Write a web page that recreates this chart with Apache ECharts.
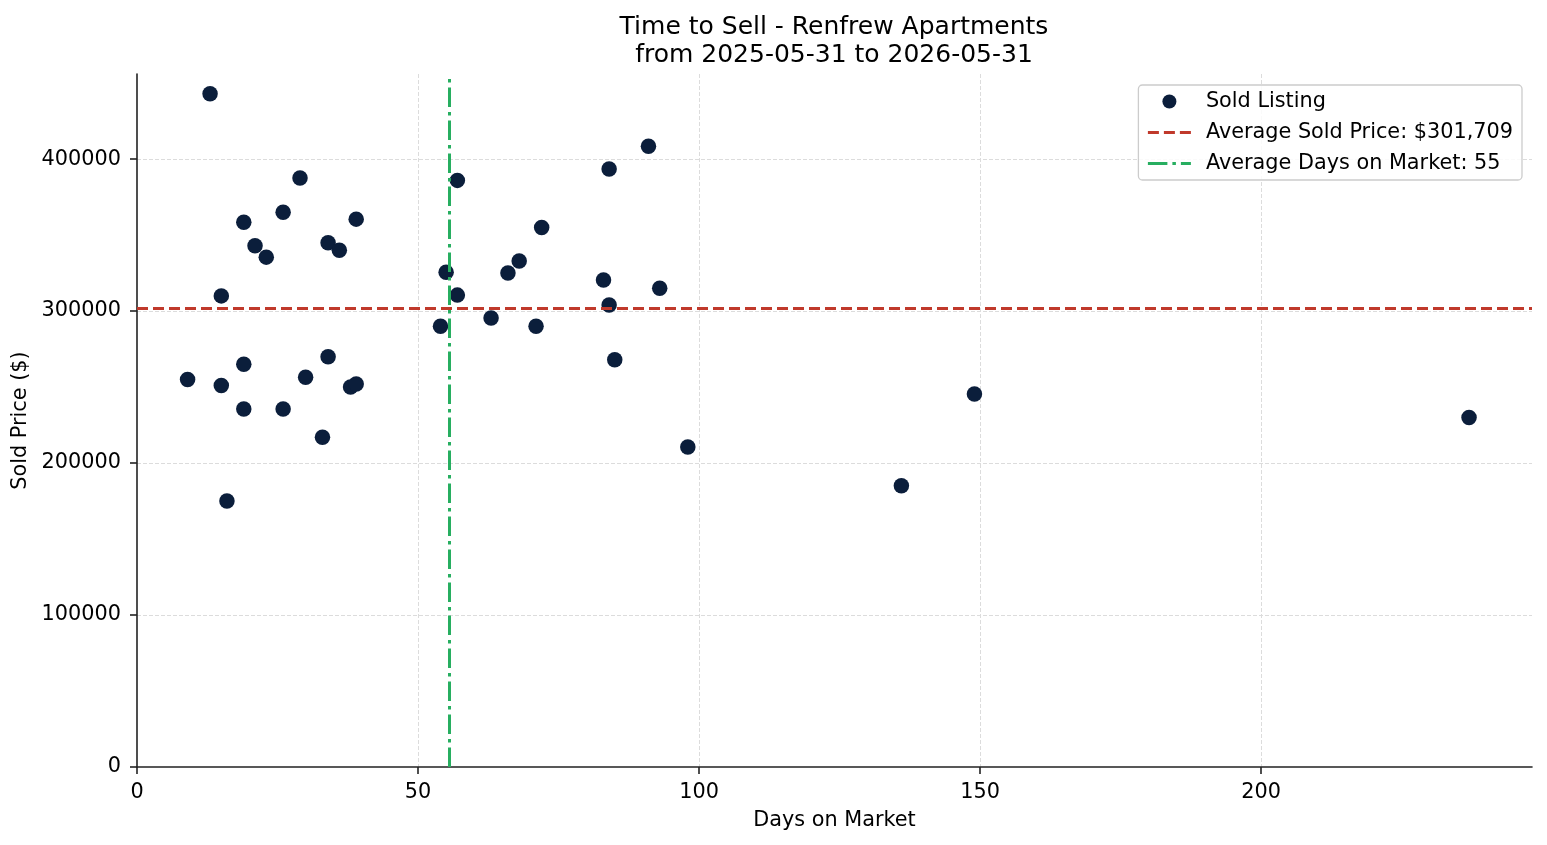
<!DOCTYPE html>
<html>
<head>
<meta charset="utf-8">
<title>Time to Sell - Renfrew Apartments</title>
<script src="https://cdn.jsdelivr.net/npm/echarts@6/dist/echarts.min.js"></script>
<style>
  html, body { margin: 0; padding: 0; background: #fff; }
  #chart { width: 1547px; height: 845px; }
</style>
</head>
<body>
<div id="chart"></div>
<script>
// sold listings
const daysOnMarket = [
  9, 13, 15, 15, 16, 19, 19, 19, 21, 23,
  26, 26, 29, 30, 33, 34, 34, 36, 38, 39,
  39, 54, 55, 57, 57, 63, 66, 68, 71, 72,
  83, 84, 84, 85, 91, 93, 98, 136, 149, 237
]
const soldPrices = [
  255000, 443000, 310000, 251000, 175000, 358500, 265000, 235500, 343000, 335500,
  365000, 235500, 387500, 256500, 217000, 345000, 270000, 340000, 250000, 360500,
  252000, 290000, 325500, 386000, 310500, 295500, 325000, 333000, 290000, 355000,
  320500, 393500, 304000, 268000, 408500, 315000, 210500, 185000, 245500, 230000
]

const AVG_PRICE = 301709
const AVG_DAYS = 55.6
const X_MAX = 248.2
const Y_MAX = 456000

const FONT = 'DejaVu Sans'
const TEXT = '#000'
const AXIS = '#222'
const GRID = '#dcdcdc'
const RED = '#c0392b'
const GREEN = '#27ae60'

const chart = echarts.init(document.getElementById('chart'))

const axisCommon = {
  type: 'value',
  min: 0,
  nameLocation: 'middle',
  nameTextStyle: { fontFamily: FONT, fontSize: 20.8, color: TEXT },
  axisLine: { show: true, onZero: false, lineStyle: { color: AXIS, width: 1.6 } },
  axisTick: { show: true, length: 7, lineStyle: { color: AXIS, width: 1.6 } },
  axisLabel: { fontFamily: FONT, fontSize: 20.8, color: TEXT, showMaxLabel: false },
  splitLine: { show: true, showMinLine: false, showMaxLine: false, lineStyle: { color: GRID, width: 1, type: [4, 2] } }
}

chart.setOption({
  backgroundColor: '#fff',
  animation: false,
  title: {
    text: 'Time to Sell - Renfrew Apartments\nfrom 2025-05-31 to 2026-05-31',
    left: 829,
    top: 8,
    textAlign: 'center',
    textStyle: { fontFamily: FONT, fontSize: 25, fontWeight: 'normal', color: TEXT, lineHeight: 28 }
  },
  grid: { left: 137, right: 15, top: 74, bottom: 78, containLabel: false, outerBoundsMode: 'none' },
  legend: {
    orient: 'vertical',
    right: 25,
    top: 85,
    padding: [6, 9, 6, 8],
    itemGap: 10,
    itemWidth: 43,
    itemHeight: 14,
    backgroundColor: 'rgba(255,255,255,0.85)',
    borderColor: '#cccccc',
    borderWidth: 1.3,
    borderRadius: 4,
    textStyle: { fontFamily: FONT, fontSize: 20.8, color: TEXT, lineHeight: 20, padding: [0, 0, 0, 10] },
    data: [
      { name: 'Sold Listing', icon: 'circle' },
      { name: 'Average Sold Price: $301,709', itemStyle: { opacity: 0 }, lineStyle: { color: RED, width: 3, type: [11, 5] } },
      { name: 'Average Days on Market: 55', itemStyle: { opacity: 0 }, lineStyle: { color: GREEN, width: 3, type: [19.5, 5, 3.5, 5] } }
    ]
  },
  xAxis: Object.assign({}, axisCommon, {
    max: X_MAX,
    interval: 50,
    name: 'Days on Market',
    nameGap: 43,
    axisLabel: Object.assign({}, axisCommon.axisLabel, { margin: 15 })
  }),
  yAxis: Object.assign({}, axisCommon, {
    max: Y_MAX,
    interval: 100000,
    name: 'Sold Price ($)',
    nameGap: 101,
    axisLabel: Object.assign({}, axisCommon.axisLabel, { margin: 16, formatter: v => String(v) })
  }),
  series: [
    {
      name: 'Sold Listing',
      type: 'scatter',
      symbolSize: 15.5,
      itemStyle: { color: '#0b1e3b', opacity: 1 },
      data: daysOnMarket.map((d, i) => [d, soldPrices[i]]),
      z: 2
    },
    {
      name: 'Average Sold Price: $301,709',
      type: 'line',
      symbol: 'none',
      silent: true,
      color: RED,
      lineStyle: { color: RED, width: 3, type: [11, 5] },
      data: [[0, AVG_PRICE], [X_MAX, AVG_PRICE]],
      z: 3
    },
    {
      name: 'Average Days on Market: 55',
      type: 'line',
      symbol: 'none',
      silent: true,
      color: GREEN,
      lineStyle: { color: GREEN, width: 3, type: [19.5, 5, 3.5, 5] },
      data: [[AVG_DAYS, 0], [AVG_DAYS, Y_MAX]],
      z: 3
    }
  ]
})

window.addEventListener('resize', () => chart.resize())
</script>
</body>
</html>
